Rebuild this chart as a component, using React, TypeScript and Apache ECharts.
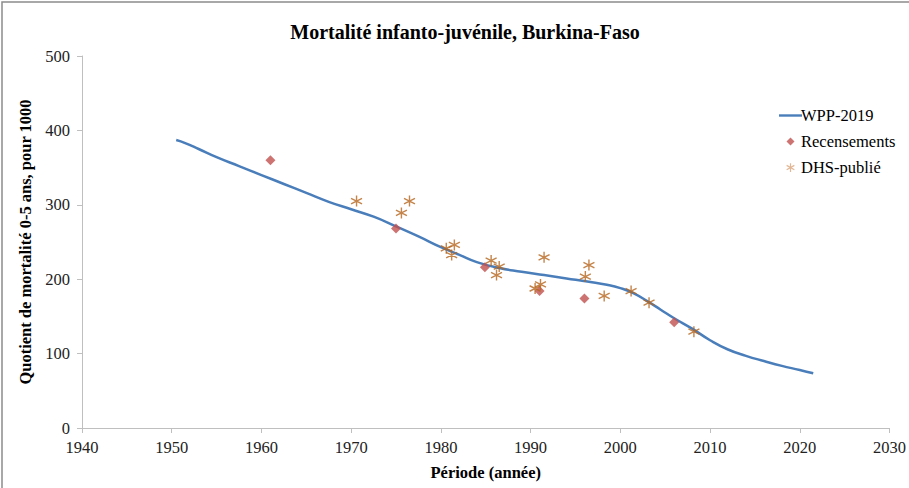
import React, { useEffect, useRef } from "react";
import * as echarts from "echarts";

const titleText = "Mortalité infanto-juvénile, Burkina-Faso";
const xAxisName = "Période (année)";
const yAxisName = "Quotient de mortalité 0-5 ans, pour 1000";

const wppYears = [1950.5, 1951.5, 1953, 1955, 1957.5, 1960, 1962.5, 1965, 1967.5, 1970, 1972.5, 1975, 1977.5, 1980, 1982, 1984, 1986.5, 1989, 1991.5, 1994, 1996.5, 1998.5, 2000, 2001.5, 2003, 2004.5, 2006, 2008, 2010, 2012, 2014, 2016, 2018, 2020, 2021.5];
const wppValues = [387, 383, 375, 364, 352, 340, 328, 316, 304, 294, 284, 271, 257.5, 243, 233, 223, 215, 210, 205.5, 201, 196.5, 192.5, 188, 181, 170.5, 159, 147.5, 133.5, 118, 105.5, 97, 90, 83.5, 78, 73.5];

const recYears = [1961.0, 1975.0, 1984.9, 1991.0, 1996.0, 2006.0];
const recValues = [360, 268, 216, 184, 174, 142];

const dhsYears = [1970.6, 1976.5, 1975.6, 1980.6, 1981.5, 1981.2, 1985.6, 1986.5, 1986.2, 1991.5, 1990.5, 1991.1, 1996.5, 1996.1, 1998.2, 2001.2, 2003.2, 2008.2];
const dhsValues = [305, 305, 289, 241.5, 246, 232.5, 225, 217, 205.5, 229.5, 187.5, 193, 219, 203.5, 177.5, 184, 168.5, 129.5];

const seriesNames = ["WPP-2019", "Recensements", "DHS-publié"];

const FONT = "'Liberation Serif', 'Times New Roman', serif";
const starPath = "path://M0,-10L0,10M-8.66,-5L8.66,5M-8.66,5L8.66,-5";
const lineIcon = "path://M0,0H23V2.4H0Z";
const legendDiamond = "path://M-10,-10L-10,-10M10,10L10,10M0,-5L5,0L0,5L-5,0Z";
const legendStar = "path://M-9,-9L-9,-9M9,9L9,9M0,-5L0,5M-4.33,-2.5L4.33,2.5M-4.33,2.5L4.33,-2.5";

export default function App() {
  const ref = useRef<HTMLDivElement>(null);
  useEffect(() => {
    if (!ref.current) return;
    const chart = echarts.init(ref.current, undefined, { renderer: "svg" });
    const wpp = wppYears.map((y, i) => [y, wppValues[i]]);
    const rec = recYears.map((y, i) => [y, recValues[i]]);
    const dhs = dhsYears.map((y, i) => [y, dhsValues[i]]);
    chart.setOption({
      animation: false,
      backgroundColor: "#ffffff",
      title: {
        text: titleText,
        left: 460,
        textAlign: "center",
        top: 17,
        textStyle: { fontFamily: FONT, fontSize: 20, fontWeight: "bold", color: "#000" },
      },
      legend: {
        orient: "vertical",
        left: 774,
        top: 102,
        itemGap: 9,
        itemWidth: 23,
        itemHeight: 16,
        textStyle: { fontFamily: FONT, fontSize: 16.5, color: "#000", padding: [0, 0, 0, -6] },
        data: [
          { name: seriesNames[0], icon: lineIcon, itemStyle: { color: "#4A7EBB" } },
          { name: seriesNames[1], icon: legendDiamond, itemStyle: { color: "#C0504D" } },
          {
            name: seriesNames[2],
            icon: legendStar,
            itemStyle: { color: "transparent", borderColor: "#D9A57A", borderWidth: 1.2 },
          },
        ],
      },
      grid: { left: 82, right: 18, top: 56, bottom: 60 },
      xAxis: {
        type: "value",
        min: 1940,
        max: 2030,
        interval: 10,
        name: xAxisName,
        nameLocation: "middle",
        nameGap: 36,
        nameTextStyle: { fontFamily: FONT, fontSize: 16.5, fontWeight: "bold", color: "#000" },
        axisLine: { show: true, lineStyle: { color: "#BFBFBF", width: 1 } },
        axisTick: { show: true, length: 5, lineStyle: { color: "#BFBFBF" } },
        axisLabel: {
          fontFamily: FONT,
          fontSize: 16.5,
          color: "#222",
          margin: 11,
          formatter: (v: number) => String(v),
        },
        splitLine: { show: false },
      },
      yAxis: {
        type: "value",
        min: 0,
        max: 500,
        interval: 100,
        name: yAxisName,
        nameLocation: "middle",
        nameGap: 42,
        nameTextStyle: { fontFamily: FONT, fontSize: 16.5, fontWeight: "bold", color: "#000" },
        axisLine: { show: true, lineStyle: { color: "#BFBFBF", width: 1 } },
        axisTick: { show: true, length: 5, lineStyle: { color: "#BFBFBF" } },
        axisLabel: { fontFamily: FONT, fontSize: 16.5, color: "#222", margin: 12 },
        splitLine: { show: false },
      },
      series: [
        {
          name: seriesNames[0],
          type: "line",
          data: wpp,
          smooth: 0.5,
          showSymbol: false,
          symbol: "none",
          lineStyle: { color: "#4A7EBB", width: 2.5 },
          itemStyle: { color: "#4A7EBB" },
          z: 2,
        },
        {
          name: seriesNames[1],
          type: "scatter",
          data: rec,
          symbol: "diamond",
          symbolSize: 10,
          itemStyle: { color: "#C0504D" },
          z: 3,
        },
        {
          name: seriesNames[2],
          type: "scatter",
          data: dhs,
          symbol: starPath,
          symbolSize: 11,
          itemStyle: { color: "transparent", borderColor: "#B5651D", borderWidth: 1.4 },
          z: 4,
        },
      ],
      graphic: [
        {
          type: "polyline",
          shape: { points: [[2, 488], [2, 2], [909, 2]] },
          style: { stroke: "#8C8C8C", lineWidth: 1.5, fill: "none" },
          silent: true,
        },
      ],
    });
    return () => chart.dispose();
  }, []);
  return (
    <div
      ref={ref}
      style={{ position: "absolute", left: 0, top: 0, width: 909, height: 488 }}
    />
  );
}
